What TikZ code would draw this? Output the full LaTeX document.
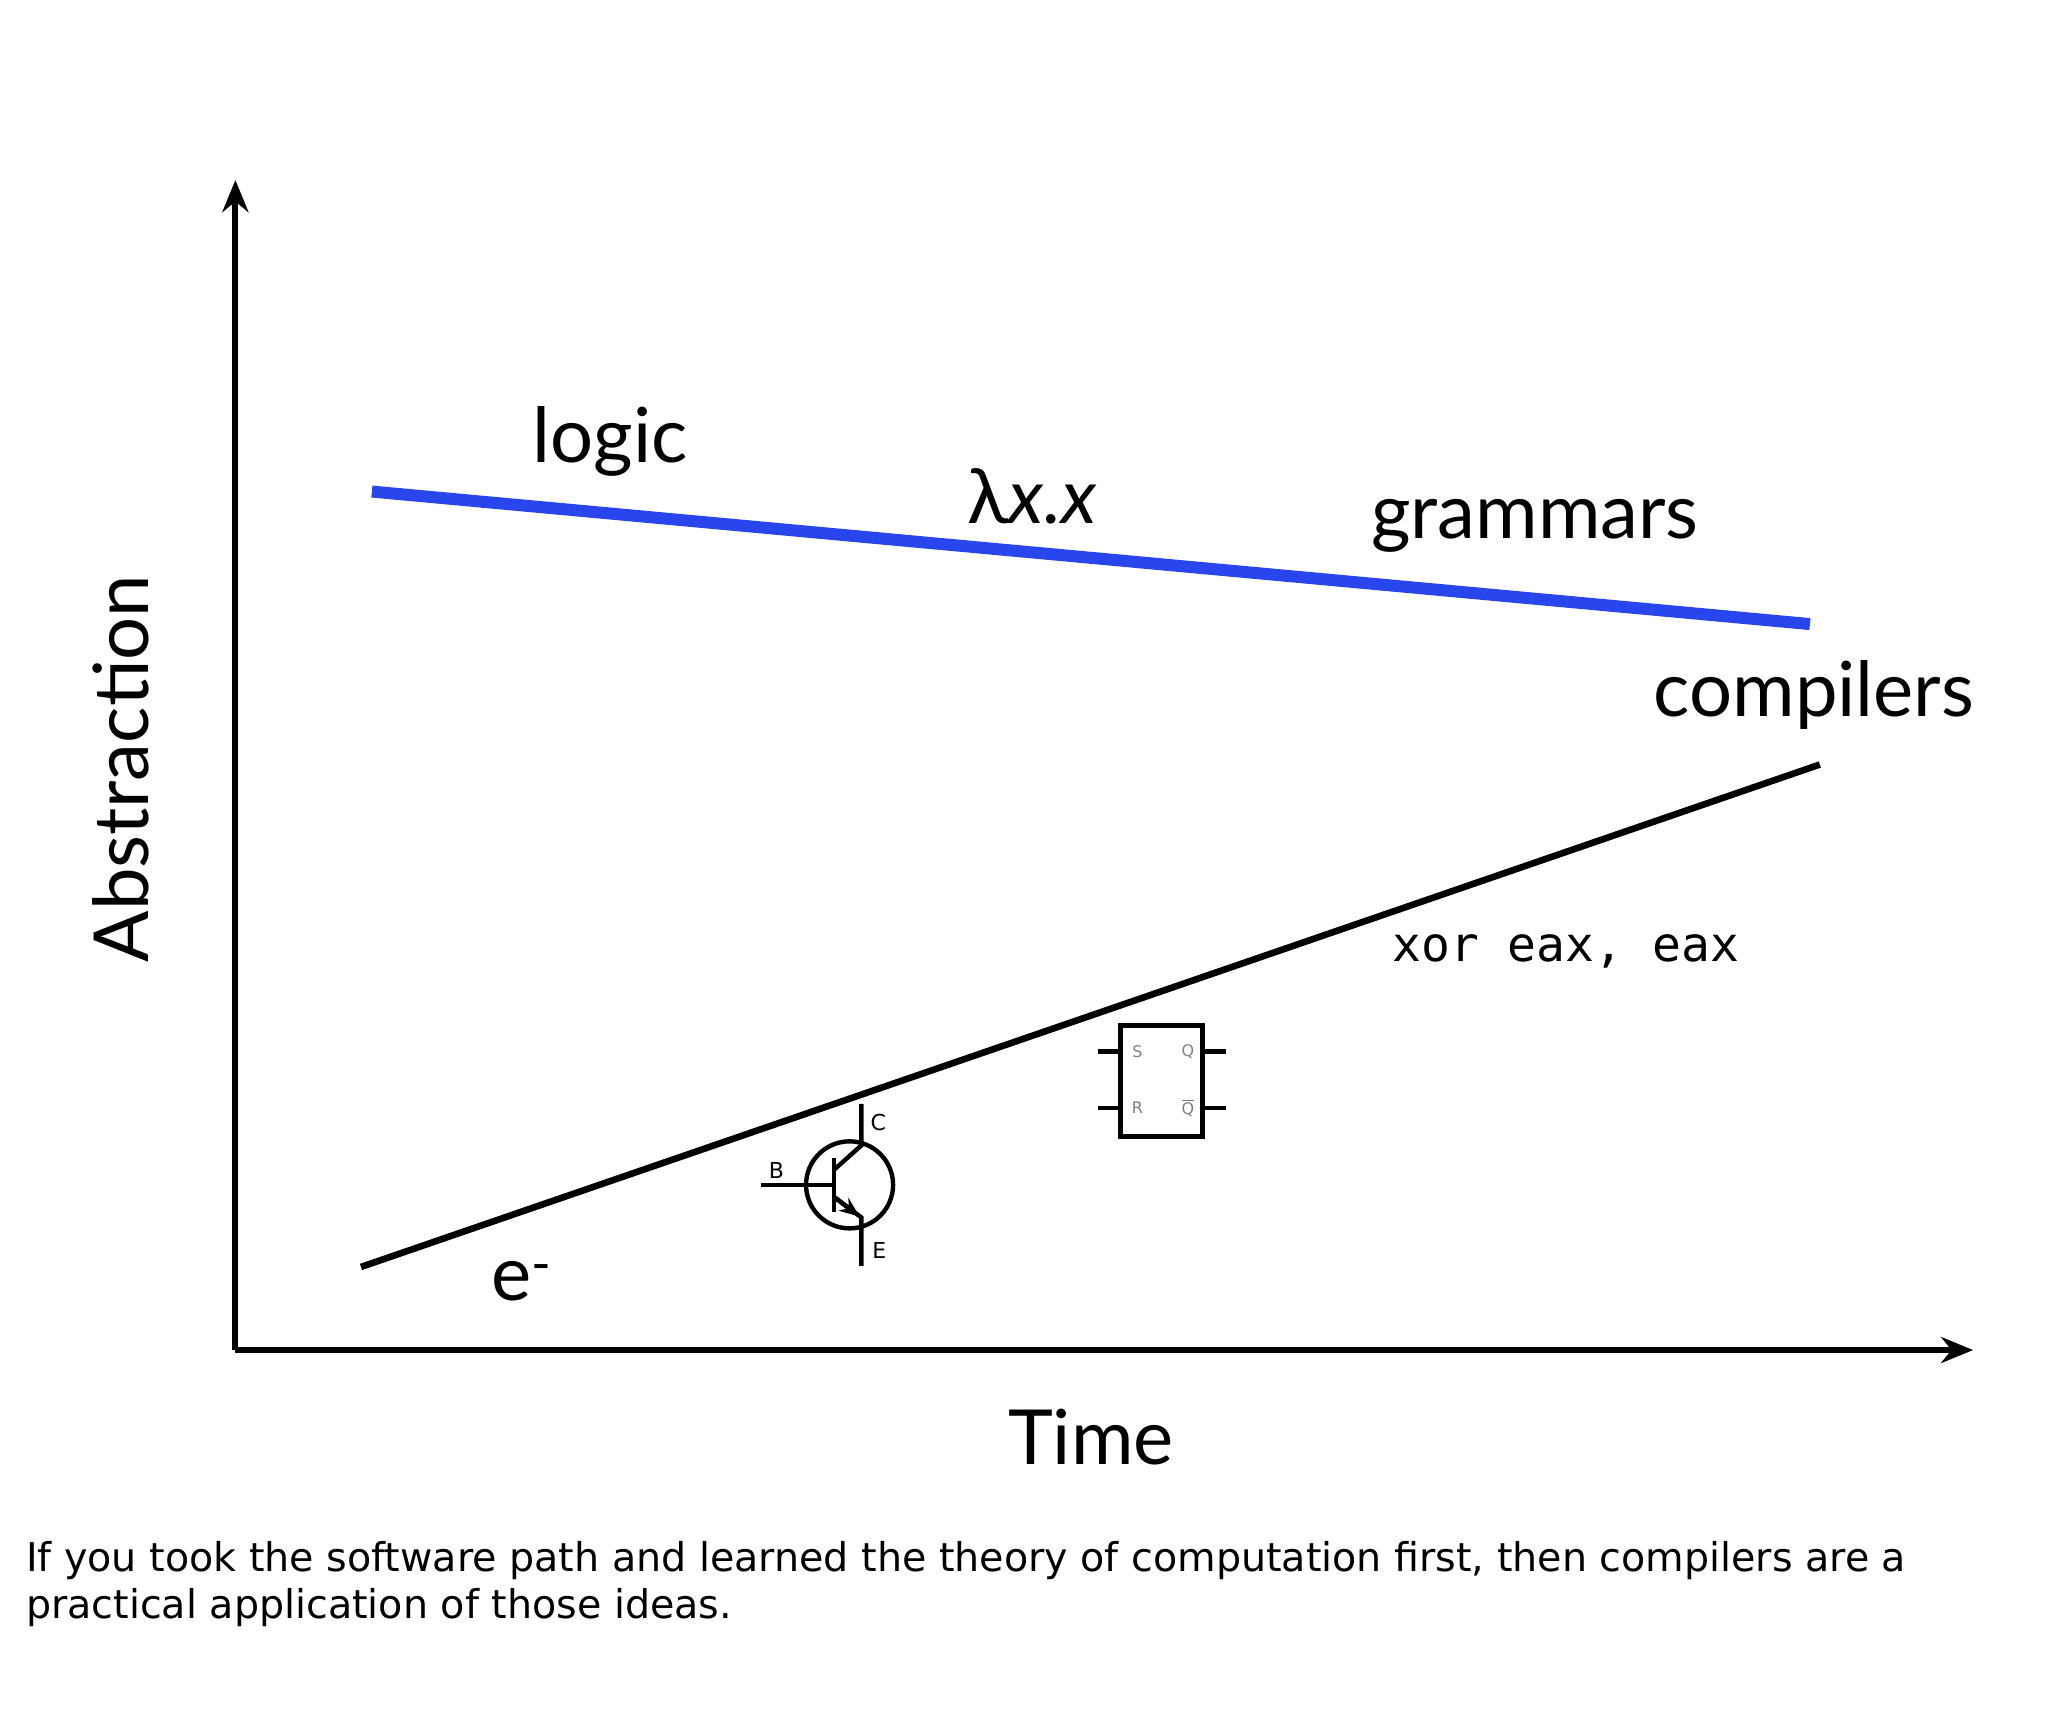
\documentclass[tikz,border=0pt]{standalone}
\usepackage{fontspec}
\usetikzlibrary{arrows.meta}
\setmainfont{Lato}
\newfontfamily\capfont{DejaVu Sans}
\newfontfamily\monofont{DejaVu Sans Mono}
\newfontfamily\circfont{DejaVu Sans}
\begin{document}
\begin{tikzpicture}[x=0.4945pt,y=-0.4945pt,
  big/.style={font=\fontsize{38}{44}\selectfont, inner sep=0},
  lbl/.style={font=\circfont\fontsize{11}{12}\selectfont, inner sep=0},
  glbl/.style={font=\circfont\fontsize{8}{9}\selectfont, text=gray, inner sep=0},
  wire/.style={line width=2.2pt}]
\useasboundingbox (0pt,0pt) rectangle (1024pt,-860pt);
% axes
\coordinate (O) at (238,1365);
\coordinate (Ytop) at (238,182);
\coordinate (Xend) at (1995,1365);
\draw[line width=3pt,-{Stealth[length=16pt,width=13pt]}] (O) -- (Ytop);
\draw[line width=3pt,-{Stealth[length=16pt,width=13pt]}] (O) -- (Xend);
\node[big,rotate=90] (abs) at (122,777) {Abstraction};
\node[big] (time) at (1103,1453) {Time};
% lines
\coordinate (b1) at (376,497); \coordinate (b2) at (1830,631);
\draw[line width=6pt, color={rgb,255:red,40;green,70;blue,235}] (b1) -- (b2);
\coordinate (k1) at (365,1281); \coordinate (k2) at (1840,773);
\draw[line width=3.3pt] (k1) -- (k2);
% labels
\node[big] (logic) at (617,446) {logic};
\node[big] (lam) at (1044,502) {λ\textit{x.x}};
\node[big] (gram) at (1552,532) {grammars};
\node[big] (comp) at (1834,703) {compilers};
\node[font=\monofont\fontsize{24}{28}\selectfont, inner sep=0] (xor) at (1583,962) {xor eax, eax};
\node[big] (e) at (528,1295) {e\textsuperscript{-}};
% transistor
\begin{scope}[shift={(11,13)}]
\coordinate (tc) at (848,1185);
\draw[wire] (tc) circle (44);
\draw[wire] (758,1185) -- (832,1185);
\draw[wire] (832,1158) -- (832,1212);
\draw[wire] (832,1170) -- (860,1145) -- (860,1103);
\draw[wire] (832,1197) -- (860,1218) -- (860,1267);
\draw[wire,-{Stealth[length=10pt,width=8pt]}] (832,1197) -- (858,1217);
\node[lbl] (C) at (877,1122) {C};
\node[lbl] (B) at (774,1170) {B};
\node[lbl] (E) at (878,1251) {E};
\end{scope}
% flip-flop
\draw[wire] (1133,1037) rectangle (1216,1149);
\draw[wire] (1110,1063) -- (1133,1063);
\draw[wire] (1110,1120) -- (1133,1120);
\draw[wire] (1216,1063) -- (1240,1063);
\draw[wire] (1216,1120) -- (1240,1120);
\node[glbl] (S) at (1150,1063) {S};
\node[glbl] (R) at (1150,1120) {R};
\node[glbl] (Q) at (1201,1063) {Q};
\node[glbl] (Qb) at (1201,1120) {$\overline{\mbox{Q}}$};
% caption
\node[font=\capfont\fontsize{19.8}{23.5}\selectfont, anchor=north west, align=left, inner sep=0] (cap) at (26,1558)
{If you took the software path and learned the theory of computation first, then compilers are a\\practical application of those ideas.};
\end{tikzpicture}
\end{document}
